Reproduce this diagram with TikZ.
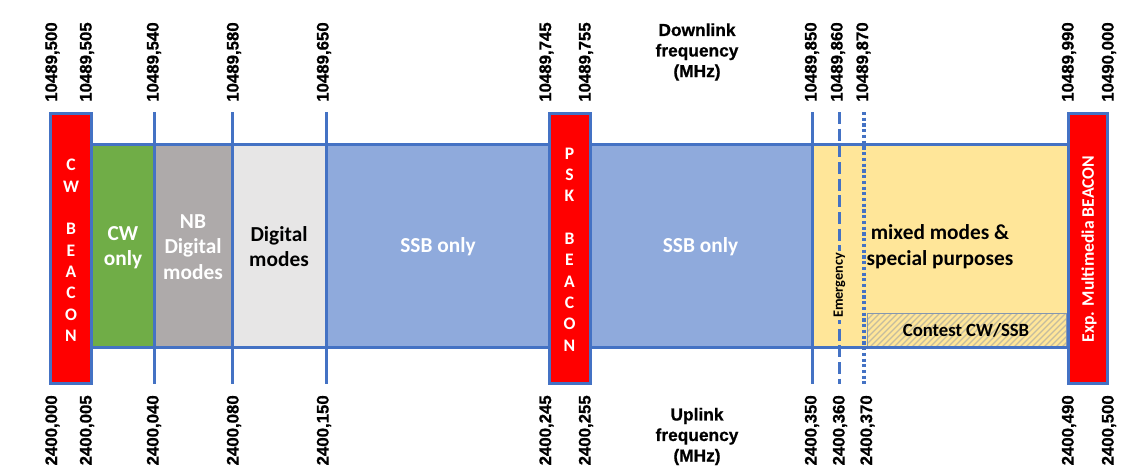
\documentclass[tikz,border=0pt]{standalone}
\usepackage{fontspec}
\setmainfont{Carlito}[BoldFont={Carlito Bold}]
\newfontfamily\arialfont{Liberation Sans}[BoldFont={Liberation Sans Bold},BoldFeatures={FakeBold=0.8}]
\definecolor{bblue}{HTML}{4472C4}
\definecolor{bred}{HTML}{FF0000}
\definecolor{bgreen}{HTML}{70AD47}
\definecolor{bgray}{HTML}{AEAAAA}
\definecolor{blgray}{HTML}{E7E6E6}
\definecolor{bssb}{HTML}{8FAADC}
\definecolor{byellow}{HTML}{FFE699}
\definecolor{bhatch}{HTML}{C4BC9F}
\definecolor{bcbord}{HTML}{8497B0}
\begin{document}
\begin{tikzpicture}[x=0.75pt,y=-0.75pt,
  tickline/.style={draw=bblue,line width=2.25pt},
  beacon/.style={fill=bred,draw=bblue,line width=2.25pt},
  toplab/.style={rotate=90,anchor=west,inner sep=0pt,font=\arialfont\bfseries\fontsize{12.6}{14}\selectfont},
  botlab/.style={rotate=90,anchor=east,inner sep=0pt,font=\arialfont\bfseries\fontsize{12.6}{14}\selectfont},
  bandtext/.style={align=center,inner sep=0pt,font=\bfseries\fontsize{16}{19}\selectfont},
  letters/.style={align=center,inner sep=0pt,text=white,font=\bfseries\fontsize{13.2}{16}\selectfont},
  freqtext/.style={align=center,inner sep=0pt,font=\arialfont\bfseries\fontsize{13}{15.4}\selectfont}]
\useasboundingbox (0,0) rectangle (1134,475);
% band segments
\fill[bgreen] (92,144) rectangle (154,347.5);
\fill[bgray] (154,144) rectangle (232,347.5);
\fill[blgray] (232,144) rectangle (326,347.5);
\fill[bssb] (326,144) rectangle (549,347.5);
\fill[bssb] (590,144) rectangle (812,347.5);
\fill[byellow] (812,144) rectangle (1068,347.5);
% contest box with hatching
\begin{scope}
\clip (867.5,313) rectangle (1066,347);
\foreach \x in {828,834,...,1068} \draw[bhatch,line width=1pt] (\x,347) -- ++(34,-34);
\end{scope}
\draw[bcbord,line width=0.75pt] (867.5,313) rectangle (1066,347);
% band outline
\draw[tickline] (92,144) -- (1068,144);
\draw[tickline] (92,347.5) -- (1068,347.5);
% ticks
\foreach \x in {154,232,326,812} \draw[tickline] (\x,112) -- (\x,384);
\draw[bblue,line width=2.25pt,dash pattern=on 9pt off 3.5pt] (839,112) -- (839,384);
\draw[bblue,line width=2.4pt,dash pattern=on 2.4pt off 1.9pt] (864,112) -- (864,384);
% beacons
\draw[beacon] (50.8,113.5) rectangle (91.2,383.5);
\draw[beacon] (549,113.5) rectangle (590,383.5);
\draw[beacon] (1068.8,113.5) rectangle (1107.5,383.5);
% beacon texts
\node[letters] (cwb) at (71,250.5) {C\\W\\[16.05pt]B\\E\\A\\C\\O\\N};
\node[letters] (pskb) at (569.5,249.5) {P\\S\\K\\[15.9pt]B\\E\\A\\C\\O\\N};
\node[rotate=90,inner sep=0pt,text=white,font=\bfseries\fontsize{13.2}{15}\selectfont] (expb) at (1089,249) {Exp. Multimedia BEACON};
% band texts
\node[bandtext,text=white] (cwonly) at (123,247.5) {CW\\only};
\node[bandtext,text=white,font=\bfseries\fontsize{16}{19.1}\selectfont] (nbdig) at (193,247) {NB\\Digital\\modes};
\node[bandtext,text=black] (digm) at (279,246.5) {Digital\\modes};
\node[bandtext,text=white] (ssb1) at (438,246.5) {SSB only};
\node[bandtext,text=white] (ssb2) at (700.5,246.5) {SSB only};
\node[rotate=90,fill=byellow,inner sep=1.5pt,font=\bfseries\fontsize{10.7}{12}\selectfont] (emerg) at (839.5,285.5) {Emergency};
\node[align=center,inner sep=0pt,font=\bfseries\fontsize{16}{19.5}\selectfont] (mixed) at (940,247) {mixed modes \&\\special purposes};
\node[inner sep=0pt,font=\bfseries\fontsize{14}{16}\selectfont] (contest) at (966,330.5) {Contest CW/SSB};
% frequency titles
\node[freqtext] (down) at (697,52) {Downlink\\frequency\\(MHz)};
\node[freqtext] (up) at (697,436.5) {Uplink\\frequency\\(MHz)};
% top labels
\foreach \x/\t [count=\i] in {52.5/10489{,}500,87/10489{,}505,154/10489{,}540,234/10489{,}580,324/10489{,}650,546.5/10489{,}745,586/10489{,}755,812/10489{,}850,838/10489{,}860,863.5/10489{,}870,1069/10489{,}990,1109/10490{,}000}
  \node[toplab] (top\i) at (\x,102) {\t};
% bottom labels
\foreach \x/\t [count=\i] in {52.5/2400{,}000,87/2400{,}005,154/2400{,}040,234/2400{,}080,324/2400{,}150,546.5/2400{,}245,586/2400{,}255,812/2400{,}350,840/2400{,}360,867.5/2400{,}370,1069/2400{,}490,1109/2400{,}500}
  \node[botlab] (bot\i) at (\x,395) {\t};
\end{tikzpicture}
\end{document}
